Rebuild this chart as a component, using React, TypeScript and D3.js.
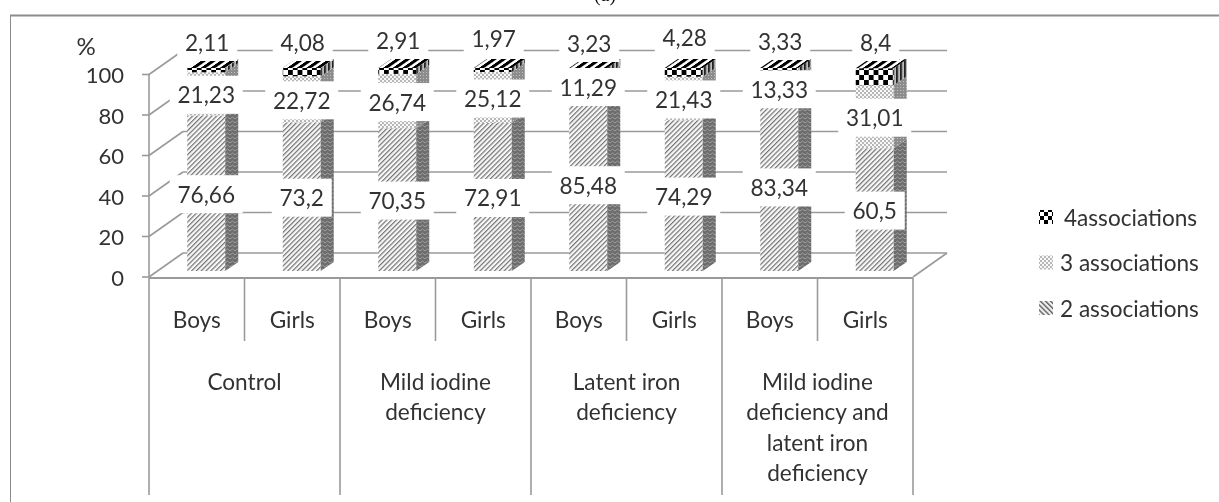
import React from "react";
import * as d3 from "d3";

const barIds = ["cb", "cg", "mb", "mg", "lb", "lg", "xb", "xg"];
const barNames = ["Boys", "Girls", "Boys", "Girls", "Boys", "Girls", "Boys", "Girls"];
const twoAssoc = [76.66, 73.2, 70.35, 72.91, 85.48, 74.29, 83.34, 60.5];
const threeAssoc = [21.23, 22.72, 26.74, 25.12, 11.29, 21.43, 13.33, 31.01];
const fourAssoc = [2.11, 4.08, 2.91, 1.97, 3.23, 4.28, 3.33, 8.4];
const groupLines = [
  ["Control"],
  ["Mild iodine", "deficiency"],
  ["Latent iron", "deficiency"],
  ["Mild iodine", "deficiency and", "latent iron", "deficiency"],
];
const yTicks = [0, 20, 40, 60, 80, 100];
const legendNames = ["4associations", "3 associations", "2 associations"];
// manual vertical nudges of the top labels (the source chart had them dragged by hand)
const topLabelNudge = [1, 1, -1, -3, 2, -4, 0, 1];

const GRID = "#9a9a9a";
const TEXT = "#333";
const FONT = "Lato, sans-serif";
const FS = 22.6;
const DX = 34, DY = -24, SX = 13, SY = -9, FACE = 38;

const x = d3.scaleBand<string>().domain(barIds).range([149, 913]);
const yWall = d3.scaleLinear().domain([0, 100]).range([277, 74.5]);
const yBar = d3.scaleLinear().domain([0, 100]).range([271, 68]);

const rows = barIds.map((id, i) => ({ id, a: twoAssoc[i], b: threeAssoc[i], c: fourAssoc[i] }));
const stacked = d3.stack<any>().keys(["a", "b", "c"])(rows);

const fmt = (v: number) => String(v).replace(".", ",");
const faceLeft = (i: number) => x(barIds[i])! + (x.bandwidth() - FACE) / 2 + 9.5;
const labelWidth = (s: string) => s.replace(",", "").length * 13 + (s.includes(",") ? 5 : 0);

const poly = (pts: number[][]) => d3.line()(pts as any) + "Z";
const frontFills = ["url(#hatch)", "url(#dots)", "url(#checks)"];
const sideFills = ["url(#sideHatch)", "url(#sideDots)", "url(#sideChecks)"];

function Label({ text, cx, cy }: { text: string; cx: number; cy: number }) {
  const w = labelWidth(text) + 16;
  return (
    <g>
      <rect x={cx - w / 2} y={cy - 19} width={w} height={38} fill="#fff" />
      <text x={cx} y={cy} textAnchor="middle" dominantBaseline="central" fontSize={FS} fill={TEXT} fontFamily={FONT}>
        {text}
      </text>
    </g>
  );
}

export default function App() {
  const x0 = 149, x1 = 913;
  return (
    <svg width={1219} height={502} style={{ position: "absolute", left: 0, top: 0, background: "#fff", display: "block" }}>
      <defs>
        <filter id="soft" x="0" y="0" width="100%" height="100%">
          <feGaussianBlur stdDeviation="0.5" />
        </filter>
        <pattern id="hatch" width="3.4" height="3.4" patternUnits="userSpaceOnUse" patternTransform="rotate(45)">
          <rect width="3.4" height="3.4" fill="#f8f8f8" />
          <rect width="1.2" height="3.4" fill="#747474" />
        </pattern>
        <pattern id="legendHatch" width="3.6" height="3.6" patternUnits="userSpaceOnUse" patternTransform="rotate(-45)">
          <rect width="3.6" height="3.6" fill="#f6f6f6" />
          <rect width="1.5" height="3.6" fill="#666" />
        </pattern>
        <pattern id="sideHatch" width="5" height="4" patternUnits="userSpaceOnUse">
          <rect width="5" height="4" fill="#6c6c6c" />
          <path d="M0,3 L2.5,1 L5,3" fill="none" stroke="#a4a4a4" strokeWidth="0.9" />
        </pattern>
        <pattern id="dots" width="4" height="4" patternUnits="userSpaceOnUse">
          <rect width="4" height="4" fill="#f8f8f8" />
          <circle cx="1" cy="1" r="0.9" fill="#999" />
          <circle cx="3" cy="3" r="0.9" fill="#999" />
        </pattern>
        <pattern id="sideDots" width="3" height="3" patternUnits="userSpaceOnUse">
          <rect width="3" height="3" fill="#8c8c8c" />
          <rect width="1" height="1" fill="#c0c0c0" />
        </pattern>
        <pattern id="checks" width="9.6" height="10" patternUnits="userSpaceOnUse">
          <rect width="9.6" height="10" fill="#fff" />
          <rect x="0" y="0" width="4.8" height="5" fill="#000" />
          <rect x="4.8" y="5" width="4.8" height="5" fill="#000" />
        </pattern>
        <pattern id="topChecks" width="9.6" height="6" patternUnits="userSpaceOnUse" patternTransform="skewX(-55)">
          <rect width="9.6" height="6" fill="#fff" />
          <rect x="0" y="0" width="5.2" height="6" fill="#000" />
        </pattern>
        <pattern id="sideChecks" width="4" height="6" patternUnits="userSpaceOnUse" patternTransform="skewY(-35)">
          <rect width="4" height="6" fill="#bbb" />
          <rect width="2" height="6" fill="#222" />
        </pattern>
        <pattern id="legendChecks" width="8" height="8" patternUnits="userSpaceOnUse">
          <rect width="8" height="8" fill="#fff" />
          <rect width="4" height="4" fill="#000" />
          <rect x="4" y="4" width="4" height="4" fill="#000" />
        </pattern>
      </defs>

      <g filter="url(#soft)">
        <text x={605} y={1} textAnchor="middle" fontSize={20} fontFamily="'Liberation Serif', serif" fill="#111">(a)</text>
        <path d="M10,502V15.5H1219" fill="none" stroke="#8c8c8c" strokeWidth={2} />

        {/* back wall gridlines and side wall diagonals */}
        {yTicks.map((t) => (
          <g key={t} stroke={GRID} strokeWidth={1.6} fill="none">
            <path d={d3.line()([[x0 + DX, yWall(t) + DY], [x1 + DX, yWall(t) + DY]] as any)!} />
            <path d={d3.line()([[x0, yWall(t)], [x0 + DX, yWall(t) + DY]] as any)!} />
            <path d={d3.line()([[x0 - 7, yWall(t)], [x0, yWall(t)]] as any)!} />
          </g>
        ))}
        <path d={poly([[x1, yWall(0)], [x1 + DX, yWall(0) + DY]])} fill="none" stroke={GRID} strokeWidth={1.6} />
        <line x1={x0} x2={x0} y1={yWall(100)} y2={yWall(0)} stroke={GRID} strokeWidth={1.6} />

        {/* stacked bars */}
        {stacked.map((layer, s) =>
          layer.map((d, i) => {
            const l = faceLeft(i), r = l + FACE;
            const yb = yBar(d[0]), yt = yBar(d[1]);
            return (
              <g key={s + "-" + i}>
                <rect x={l} y={yt} width={FACE} height={yb - yt} fill={frontFills[s]} />
                <path d={poly([[r, yb], [r + SX, yb + SY], [r + SX, yt + SY], [r, yt]])} fill={sideFills[s]} />
                {s === 2 && (
                  <path d={poly([[l, yt], [r, yt], [r + SX, yt + SY], [l + SX, yt + SY]])} fill="url(#topChecks)" />
                )}
              </g>
            );
          })
        )}

        {/* data labels with white boxes */}
        {rows.map((r, i) => {
          const cx = faceLeft(i) + FACE / 2;
          return (
            <g key={r.id}>
              <Label text={fmt(r.a)} cx={cx} cy={yBar(r.a / 2) + 1} />
              <Label text={fmt(r.b)} cx={cx} cy={yBar(r.a + r.b / 2) + 1} />
              <Label text={fmt(r.c)} cx={cx + 1} cy={41 + topLabelNudge[i]} />
            </g>
          );
        })}

        {/* value axis labels */}
        {yTicks.map((t) => (
          <text key={t} x={124} y={yWall(t)} textAnchor="end" dominantBaseline="central" fontSize={22} fill={TEXT} fontFamily={FONT}>
            {t}
          </text>
        ))}
        <text x={86} y={45} textAnchor="middle" dominantBaseline="central" fontSize={24} fill={TEXT} fontFamily={FONT}>%</text>

        {/* category table */}
        <line x1={x0} x2={x1} y1={yWall(0) + 1} y2={yWall(0) + 1} stroke={GRID} strokeWidth={2} />
        {barIds.map((id, i) => {
          const left = x(id)!;
          const odd = i % 2 === 1;
          return (
            <g key={id}>
              {odd && <line x1={left} x2={left} y1={278} y2={341} stroke={GRID} strokeWidth={1.6} />}
              <text x={left + x.bandwidth() / 2} y={319} textAnchor="middle" dominantBaseline="central" fontSize={FS} fill={TEXT} fontFamily={FONT}>
                {barNames[i]}
              </text>
            </g>
          );
        })}
        {groupLines.map((lines, g) => {
          const left = x(barIds[g * 2])!;
          const mid = left + x.bandwidth();
          return (
            <g key={g}>
              <line x1={left} x2={left} y1={278} y2={495} stroke={GRID} strokeWidth={1.6} />
              {lines.map((t, k) => (
                <text key={k} x={mid} y={381 + k * 30.5} textAnchor="middle" dominantBaseline="central" fontSize={FS} fill={TEXT} fontFamily={FONT}>
                  {t}
                </text>
              ))}
            </g>
          );
        })}
        <line x1={x1} x2={x1} y1={278} y2={495} stroke={GRID} strokeWidth={1.6} />

        {/* legend */}
        {legendNames.map((n, i) => (
          <g key={n}>
            <rect x={1039} y={210 + i * 45.5} width={14} height={14} fill={["url(#legendChecks)", "url(#dots)", "url(#legendHatch)"][i]} />
            <text x={i === 0 ? 1064 : 1060} y={217 + i * 45.5} dominantBaseline="central" fontSize={FS} fill={TEXT} fontFamily={FONT}>
              {n}
            </text>
          </g>
        ))}
      </g>
    </svg>
  );
}
